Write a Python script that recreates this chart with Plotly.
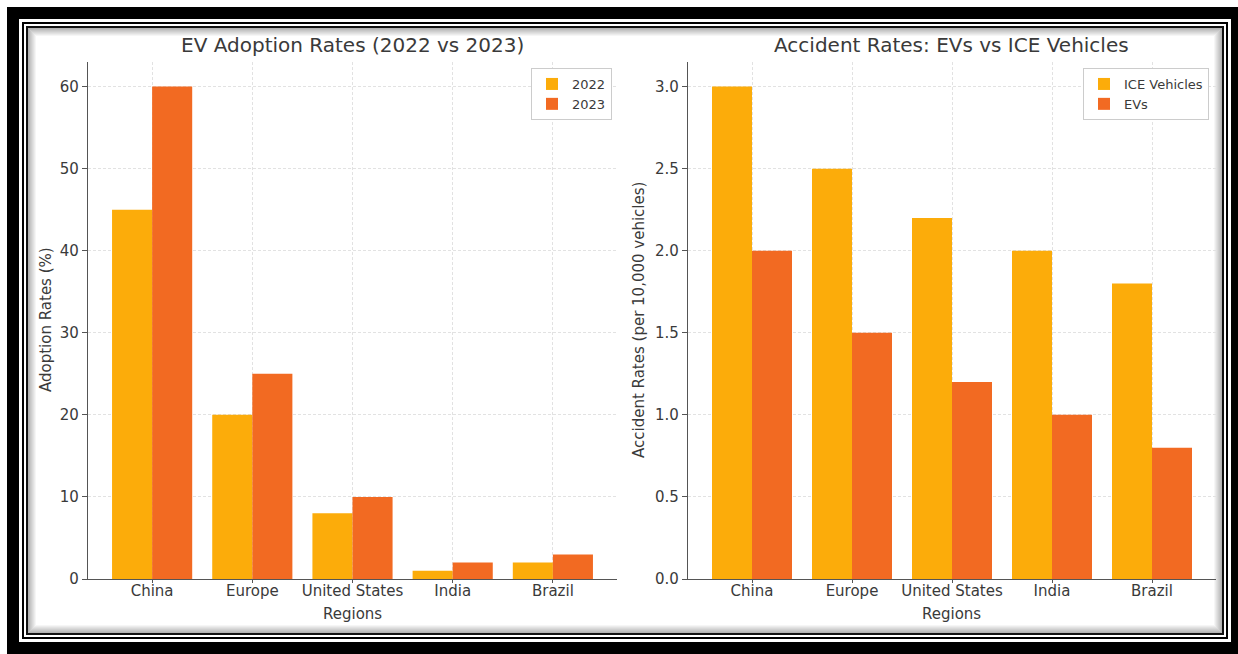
import plotly.graph_objects as go

W, H = 1238, 654

regions = ["China", "Europe", "United States", "India", "Brazil"]
adoption_2022 = [45, 20, 8, 1, 2]
adoption_2023 = [60, 25, 10, 2, 3]
accident_ice = [3.0, 2.5, 2.2, 2.0, 1.8]
accident_ev = [2.0, 1.5, 1.2, 1.0, 0.8]

C1 = "#FCAC0A"
C2 = "#F26A22"
TXT = "#3a3a3a"
FONT = "DejaVu Sans"


def px(x):
    return x / W


def py(y):
    return 1 - y / H


fig = go.Figure()

fig.add_trace(go.Bar(x=regions, y=adoption_2022, name="2022", marker=dict(color=C1, line=dict(width=0)),
                     xaxis="x", yaxis="y", legend="legend"))
fig.add_trace(go.Bar(x=regions, y=adoption_2023, name="2023", marker=dict(color=C2, line=dict(width=0)),
                     xaxis="x", yaxis="y", legend="legend"))
fig.add_trace(go.Bar(x=regions, y=accident_ice, name="ICE Vehicles", marker=dict(color=C1, line=dict(width=0)),
                     xaxis="x2", yaxis="y2", legend="legend2"))
fig.add_trace(go.Bar(x=regions, y=accident_ev, name="EVs", marker=dict(color=C2, line=dict(width=0)),
                     xaxis="x2", yaxis="y2", legend="legend2"))

axis_common = dict(
    showline=True, linecolor="#555555", linewidth=1.2,
    tickcolor="#555555", tickwidth=1,
    showgrid=True, gridcolor="#e2e2e2", griddash="3px,2px", gridwidth=1,
    zeroline=False, tickfont=dict(family=FONT, size=15, color=TXT),
    automargin=False,
)
xaxis_extra = dict(ticks="outside", ticklen=3, ticklabelstandoff=-5)
yaxis_extra = dict(ticks="outside", ticklen=5)

ydom = [py(579), py(62)]

shapes = []
# outer frame
frame = [
    (7, 7, 1238, 654, "black"),
    (19, 19, 1231, 642, "white"),
    (22, 22, 1228, 639, "black"),
    (24, 24, 1226, 637, "white"),
    (26, 26, 1224, 635, "#111111"),
    (28, 28, 1222, 633, "white"),
]
for x0, y0, x1, y1, c in frame:
    shapes.append(dict(type="rect", xref="paper", yref="paper", x0=px(x0), x1=px(x1), y0=py(y1), y1=py(y0),
                       fillcolor=c, line=dict(width=0), layer="below"))
# inner shadow
for i in range(8):
    a = 0.30 * (1 - i / 8)
    shapes.append(dict(type="rect", xref="paper", yref="paper",
                       x0=px(28 + i + 0.5), x1=px(1222 - i - 0.5), y0=py(633 - i - 0.5), y1=py(28 + i + 0.5),
                       fillcolor="rgba(0,0,0,0)", line=dict(width=1, color=f"rgba(0,0,0,{a:.3f})"), layer="below"))

annotations = []


def ann(text, x, y, size, angle=0):
    annotations.append(dict(text=text, x=px(x), y=py(y), xref="paper", yref="paper", showarrow=False,
                            xanchor="center", yanchor="middle", textangle=angle,
                            font=dict(family=FONT, size=size, color=TXT)))


ann("EV Adoption Rates (2022 vs 2023)", 352, 45, 20)
ann("Accident Rates: EVs vs ICE Vehicles", 951, 45, 20)
ann("Regions", 352, 614, 15)
ann("Regions", 951, 614, 15)
ann("Adoption Rates (%)", 46, 320, 15, -90)
ann("Accident Rates (per 10,000 vehicles)", 639, 320, 15, -90)

legend_common = dict(bgcolor="white", bordercolor="#cccccc", borderwidth=1,
                     font=dict(family=FONT, size=13, color=TXT), xanchor="right", yanchor="top",
                     tracegroupgap=0, itemwidth=30)

fig.update_layout(
    width=W, height=H,
    margin=dict(l=0, r=0, t=0, b=0),
    paper_bgcolor="white", plot_bgcolor="rgba(0,0,0,0)",
    barmode="group", bargap=0.2, bargroupgap=0,
    font=dict(family=FONT, color=TXT),
    xaxis=dict(domain=[px(88), px(617)], anchor="y", range=[-0.64, 4.64], type="category",
               **axis_common, **xaxis_extra),
    yaxis=dict(domain=ydom, anchor="x", range=[0, 63], tickvals=[0, 10, 20, 30, 40, 50, 60],
               **axis_common, **yaxis_extra),
    xaxis2=dict(domain=[px(688), px(1216)], anchor="y2", range=[-0.64, 4.64], type="category",
                **axis_common, **xaxis_extra),
    yaxis2=dict(domain=ydom, anchor="x2", range=[0, 3.15], tickvals=[0, 0.5, 1, 1.5, 2, 2.5, 3],
                ticktext=["0.0", "0.5", "1.0", "1.5", "2.0", "2.5", "3.0"], **axis_common, **yaxis_extra),
    legend=dict(x=px(612), y=py(68), **legend_common),
    legend2=dict(x=px(1209), y=py(68), **legend_common),
    shapes=shapes,
    annotations=annotations,
    showlegend=True,
)

fig.write_html("out.html")
